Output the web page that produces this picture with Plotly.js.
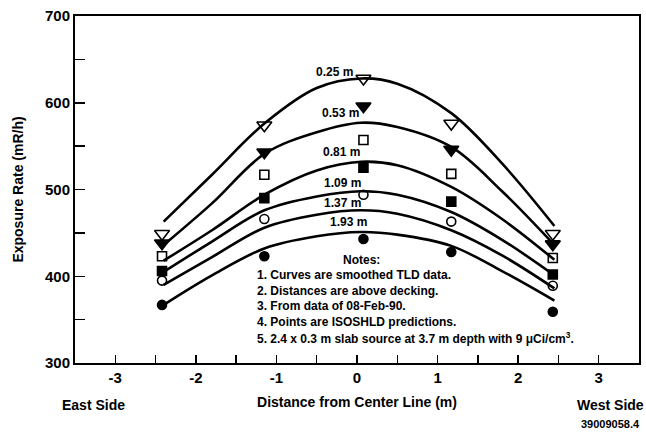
<!DOCTYPE html>
<html>
<head>
<meta charset="utf-8">
<script src="https://cdn.plot.ly/plotly-3.0.1.min.js"></script>
<style>html,body{margin:0;padding:0;background:#fff;}#chart{width:646px;height:437px;}</style>
</head>
<body>
<div id="chart"></div>
<script>
// Distances above decking (series names)
const seriesNames = ["0.25 m", "0.53 m", "0.81 m", "1.09 m", "1.37 m", "1.93 m"];

// Smoothed TLD curves (x = distance from center line, m)
const curveX = [-2.4, -1.8, -1.15, -0.5, 0.05, 0.5, 1.17, 1.8, 2.45];
const curve025 = [463, 517, 576, 617, 628, 622, 588, 530, 458];
const curve053 = [436, 484, 541, 566, 577, 572, 549, 498, 436];
const curve081 = [418, 453, 494, 522, 532, 528, 503, 466, 419];
const curve109 = [405, 440, 476, 492, 498, 494, 474, 442, 401];
const curve137 = [390, 422, 456, 471, 476, 472, 453, 424, 386];
const curve193 = [367, 401, 432, 446, 451, 448, 435, 406, 372];

// ISOSHLD prediction points
const pointX = [-2.42, -1.15, 0.08, 1.17, 2.43];
const pts025 = [449, 574, 628, 576, 449];
const pts053 = [438, 543, 596, 546, 437];
const pts081 = [423, 517, 557, 518, 421];
const pts109 = [406, 490, 525, 486, 402];
const pts137 = [395, 466, 494, 463, 389];
const pts193 = [367, 423, 443, 428, 359];

// Axis ticks
const xTickVals = [-3, -2, -1, 0, 1, 2, 3];
const xTickText = ["-3", "-2", "-1", "0", "1", "2", "3"];
const xMinorVals = [-3.5, -2.5, -1.5, -0.5, 0.5, 1.5, 2.5, 3.5];

// Curve label positions
const labelX = [-0.28, -0.21, -0.19, -0.18, -0.18, -0.11];
const labelY = [636, 588, 543, 508, 485, 462];

const notesTitle = "Notes:";
const notesLines = [
  "1. Curves are smoothed TLD data.",
  "2. Distances are above decking.",
  "3. From data of 08-Feb-90.",
  "4. Points are ISOSHLD predictions.",
  "5. 2.4 x 0.3 m slab source at 3.7 m depth with 9 \u03bcCi/cm<sup>3</sup>."
];

const curves = [curve025, curve053, curve081, curve109, curve137, curve193];
const points = [pts025, pts053, pts081, pts109, pts137, pts193];
const symbols = ["triangle-down-open", "triangle-down", "square-open", "square", "circle-open", "circle"];
const sizes = [13, 13, 9, 9, 9, 9];

const FONT = "Liberation Sans, Arial, Helvetica, sans-serif";
const bold = (size) => ({family: FONT, size: size, color: "#000", weight: 700});

const traces = [];
curves.forEach((c, i) => {
  traces.push({
    x: curveX, y: c, mode: "lines", type: "scatter",
    line: {color: "#000", width: 2.6, shape: "spline", smoothing: 1.0},
    hoverinfo: "skip", showlegend: false, name: seriesNames[i]
  });
});
points.forEach((p, i) => {
  traces.push({
    x: pointX, y: p, mode: "markers", type: "scatter",
    marker: {symbol: symbols[i], size: sizes[i], color: "#000", line: {color: "#000", width: 1.6}},
    showlegend: false, name: seriesNames[i]
  });
});

const annotations = [];
seriesNames.forEach((n, i) => {
  annotations.push({x: labelX[i], y: labelY[i], xref: "x", yref: "y", text: n, showarrow: false,
    font: bold(12), xanchor: "center", yanchor: "middle"});
});
annotations.push({x: 0.06, y: 419, xref: "x", yref: "y", text: notesTitle, showarrow: false,
  font: bold(12), xanchor: "center", yanchor: "middle"});
notesLines.forEach((t, i) => {
  annotations.push({x: -1.27, y: 401.5 - 18.1 * i, xref: "x", yref: "y", text: t, showarrow: false,
    font: bold(12), xanchor: "left", yanchor: "middle"});
});
// pixel -> paper helpers (plot area: x 75..639, y 16..363)
const px = (v) => (v - 75) / 564;
const py = (v) => (363 - v) / 347;
annotations.push({x: px(93), y: py(405), xref: "paper", yref: "paper", text: "East Side", showarrow: false,
  font: bold(14), xanchor: "center", yanchor: "middle"});
annotations.push({x: px(610), y: py(405), xref: "paper", yref: "paper", text: "West Side", showarrow: false,
  font: bold(14), xanchor: "center", yanchor: "middle"});
annotations.push({x: px(610), y: py(424), xref: "paper", yref: "paper", text: "39009058.4", showarrow: false,
  font: bold(11), xanchor: "center", yanchor: "middle"});

const layout = {
  width: 646, height: 437,
  margin: {l: 75, r: 7, t: 16, b: 74},
  paper_bgcolor: "#fff", plot_bgcolor: "#fff",
  font: {family: FONT, color: "#000"},
  showlegend: false,
  xaxis: {
    range: [-3.5, 3.5], tickmode: "array", tickvals: xTickVals, ticktext: xTickText,
    ticks: "inside", ticklen: 8, tickwidth: 1.5, tickcolor: "#000",
    minor: {tickmode: "array", tickvals: xMinorVals, ticks: "inside", ticklen: 8, tickwidth: 1.5, tickcolor: "#000"},
    showline: true, linewidth: 2, linecolor: "#000", mirror: true,
    showgrid: false, zeroline: false,
    tickfont: bold(15),
    title: {text: "Distance from Center Line (m)", font: bold(14), standoff: 12}
  },
  yaxis: {
    range: [300, 700], dtick: 100,
    ticks: "inside", ticklen: 10, tickwidth: 1.5, tickcolor: "#000",
    minor: {dtick: 50, ticks: "inside", ticklen: 10, tickwidth: 1.5, tickcolor: "#000"},
    showline: true, linewidth: 2, linecolor: "#000", mirror: true,
    showgrid: false, zeroline: false,
    tickfont: bold(15),
    title: {text: "Exposure Rate (mR/h)", font: bold(14), standoff: 18}
  },
  annotations: annotations
};
Plotly.newPlot("chart", traces, layout, {staticPlot: true, displayModeBar: false});
</script>
</body>
</html>
